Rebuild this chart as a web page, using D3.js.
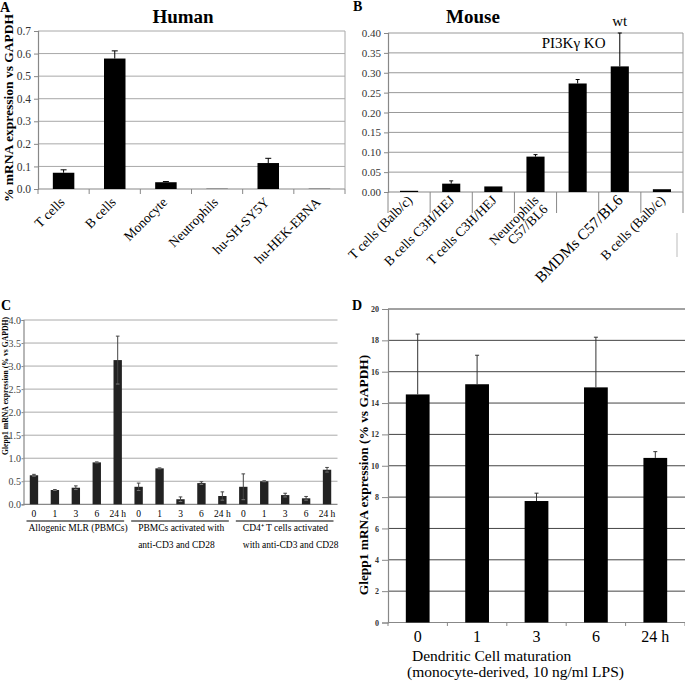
<!DOCTYPE html>
<html><head><meta charset="utf-8">
<script src="https://cdn.jsdelivr.net/npm/d3@7"></script>
<style>body{margin:0;background:#fff} svg{display:block} text{font-family:"Liberation Serif","Times New Roman",serif}</style>
</head><body><svg id="c" width="685" height="681"></svg>
<script>
// ---------- DATA ----------
const humanCats = ["T cells","B cells","Monocyte","Neutrophils","hu-SH-SY5Y","hu-HEK-EBNA"];
const humanVals = [0.072,0.578,0.030,0.001,0.115,0.001];
const humanErr  = [0.013,0.034,0.003,0.000,0.021,0.000];
const humanTicks = [0,0.1,0.2,0.3,0.4,0.5,0.6,0.7];

const mouseCats = ["T cells (Balb/c)","B cells C3H/HEJ","T cells C3H/HEJ","Neutrophils C57/BL6","BMDMs PI3Kγ KO","BMDMs wt","B cells (Balb/c)"];
const mouseVals = [0.003,0.021,0.014,0.089,0.273,0.316,0.007];
const mouseErr  = [0.000,0.007,0.000,0.005,0.010,0.084,0.000];
const mouseTicks = [0,0.05,0.10,0.15,0.20,0.25,0.30,0.35,0.40];
const mouseLabels = [["T cells (Balb/c)"],["B cells C3H/HEJ"],["T cells C3H/HEJ"],["Neutrophils","C57/BL6"],[],["BMDMs C57/BL6"],["B cells (Balb/c)"]];

const timeLabels = ["0","1","3","6","24 h"];
const groupNames = [["Allogenic MLR (PBMCs)"],["PBMCs activated with","anti-CD3 and CD28"],["CD4\u207A T cells activated","with anti-CD3 and CD28"]];
const mlrVals  = [0.63,0.31,0.36,0.91,3.13];
const mlrErr   = [0.02,0.01,0.04,0.01,0.52];
const pbmcVals = [0.38,0.78,0.11,0.46,0.18];
const pbmcErr  = [0.08,0.01,0.05,0.03,0.09];
const cd4Vals  = [0.38,0.50,0.20,0.13,0.75];
const cd4Err   = [0.28,0.01,0.04,0.04,0.05];
const glepTicks = [0,0.5,1.0,1.5,2.0,2.5,3.0,3.5,4.0];

const dcVals = [14.55,15.2,7.75,15.0,10.5];
const dcErr  = [3.85,1.85,0.5,3.2,0.4];
const dcTicks = [0,2,4,6,8,10,12,14,16,18,20];

// ---------- DRAW ----------
const svg = d3.select("#c");
const serif = '"Liberation Serif","Times New Roman",serif';

function txt(x,y,s,size,opts={}){
  const t = svg.append("text").attr("x",x).attr("y",y).text(s)
    .attr("font-size",size).attr("font-family",serif)
    .attr("fill",opts.fill||"#000");
  if(opts.bold) t.attr("font-weight","bold");
  if(opts.anchor) t.attr("text-anchor",opts.anchor);
  if(opts.rot!==undefined) t.attr("transform",`rotate(${opts.rot},${x},${y})`);
  return t;
}

function panel(cfg){
  const {x0,x1,yTop,yBot,max,ticks,fmt,cats,vals,errs,pad,grid,barFill,tickFont,tickFill,tickRight,errBoth,errStroke,cap,axisStroke} = cfg;
  const x = d3.scaleBand().domain(cats).range([x0,x1]).paddingInner(pad).paddingOuter(pad/2);
  const y = d3.scaleLinear().domain([0,max]).range([yBot,yTop]);
  const g = svg.append("g");
  g.selectAll("line.grid").data(ticks.slice(1)).join("line")
    .attr("x1",x0).attr("x2",x1).attr("y1",d=>y(d)).attr("y2",d=>y(d))
    .attr("stroke",grid).attr("stroke-width",1);
  const ax = g.append("g").attr("transform",`translate(${x0},0)`)
    .call(d3.axisLeft(y).tickValues(ticks).tickFormat(d3.format(fmt)).tickSize(cfg.tickLen||4).tickPadding(cfg.tickPad===undefined?3:cfg.tickPad));
  ax.select(".domain").attr("stroke",axisStroke).attr("stroke-width",1.2);
  ax.selectAll(".tick line").attr("stroke",axisStroke);
  ax.selectAll(".tick text").attr("font-family",serif).attr("font-size",tickFont).attr("fill",tickFill)
    .attr("font-weight",cfg.tickBold?"bold":"normal");
  g.append("line").attr("x1",x0).attr("x2",x1).attr("y1",y(0)).attr("y2",y(0)).attr("stroke",axisStroke).attr("stroke-width",1.2);
  g.selectAll("rect.bar").data(cats).join("rect")
    .attr("x",d=>x(d)).attr("width",x.bandwidth())
    .attr("y",(d,i)=>y(vals[i])).attr("height",(d,i)=>y(0)-y(vals[i]))
    .attr("fill",barFill);
  cats.forEach((c,i)=>{
    if(!errs[i]) return;
    const cx = x(c)+x.bandwidth()/2;
    const top = y(vals[i]+errs[i]);
    const bot = errBoth ? y(Math.max(0,vals[i]-errs[i])) : y(vals[i]);
    g.append("line").attr("x1",cx).attr("x2",cx).attr("y1",top).attr("y2",bot).attr("stroke",errStroke).attr("stroke-width",1);
    g.append("line").attr("x1",cx-cap).attr("x2",cx+cap).attr("y1",top).attr("y2",top).attr("stroke",errStroke).attr("stroke-width",1);
    if(errBoth) g.append("line").attr("x1",cx-cap).attr("x2",cx+cap).attr("y1",bot).attr("y2",bot).attr("stroke","#777").attr("stroke-width",1);
  });
  if(tickRight) g.append("line").attr("x1",x1).attr("x2",x1).attr("y1",yTop).attr("y2",yBot).attr("stroke",grid);
  return {x,y,g,ax};
}

// ---- Panel A ----
const A = panel({x0:38,x1:345,yTop:31,yBot:189,max:0.7,ticks:humanTicks,fmt:".1f",cats:humanCats,vals:humanVals,errs:humanErr,
  pad:0.58,grid:"#a8a8a8",barFill:"#000",tickFont:11.5,tickFill:"#333",errStroke:"#000",cap:3,axisStroke:"#888",tickRight:true});
d3.range(humanCats.length+1).forEach(i=>{
  const xx = 38 + i*A.x.step();
  A.g.append("line").attr("x1",xx).attr("x2",xx).attr("y1",189).attr("y2",194).attr("stroke","#888");
});
humanCats.forEach(c=>{
  const cx = A.x(c)+A.x.bandwidth()/2;
  txt(cx+2,203,c,13.5,{anchor:"end",rot:-45});
});
txt(183,23,"Human",19,{bold:true,anchor:"middle"});
txt(0,12,"A",14,{bold:true});
txt(13,108,"% mRNA expression vs GAPDH",13.5,{bold:true,anchor:"middle",rot:-90});

// ---- Panel B ----
const B = panel({x0:388,x1:683,yTop:33,yBot:192,max:0.40,ticks:mouseTicks,fmt:".2f",cats:mouseCats,vals:mouseVals,errs:mouseErr,
  pad:0.57,grid:"#999",barFill:"#000",tickFont:11,tickFill:"#333",errStroke:"#000",cap:2,axisStroke:"#888",tickRight:true});
d3.range(mouseCats.length+1).forEach(i=>{
  const xx = 388 + i*B.x.step();
  B.g.append("line").attr("x1",xx).attr("x2",xx).attr("y1",192).attr("y2",213).attr("stroke","#888");
});
mouseLabels.forEach((lines,i)=>{
  const cx = B.x(mouseCats[i])+B.x.bandwidth()/2;
  const big = lines[0]==="BMDMs C57/BL6";
  lines.forEach((l,j)=>{
    txt(cx+4+j*9,201+j*9,l,big?15.5:13.5,{anchor:"end",rot:-45});
  });
});
txt(473,23,"Mouse",19,{bold:true,anchor:"middle"});
txt(353,11,"B",14,{bold:true});
txt(B.x(mouseCats[5])+B.x.bandwidth()/2,26,"wt",15,{anchor:"middle"});
txt(B.x(mouseCats[4])+B.x.bandwidth()/2-4,48,"PI3Kγ KO",15,{anchor:"middle"});
svg.append("line").attr("x1",677).attr("x2",677).attr("y1",233).attr("y2",257).attr("stroke","#bbb");

// ---- Panel C ----
const cCats = [];
const cVals = [], cErrs = [];
[[mlrVals,mlrErr],[pbmcVals,pbmcErr],[cd4Vals,cd4Err]].forEach((p,gi)=>{
  timeLabels.forEach((t,ti)=>{ cCats.push(gi+"-"+t); cVals.push(p[0][ti]); cErrs.push(p[1][ti]); });
});
txt(7.5,386,"Glepp1 mRNA expression (% vs GAPDH)",7.7,{bold:true,anchor:"middle",rot:-90});
const C = panel({x0:23.5,x1:337.5,yTop:320,yBot:504.3,max:4.0,ticks:glepTicks,fmt:".1f",cats:cCats,vals:cVals,errs:cErrs,
  pad:0.6,grid:"#aaa",barFill:"#222",tickFont:10,tickFill:"#444",errStroke:"#444",cap:1.8,errBoth:true,axisStroke:"#888",tickPad:0.5,tickLen:2});
cCats.forEach((c,i)=>{
  const cx = C.x(c)+C.x.bandwidth()/2;
  txt(cx,517,timeLabels[i%5],9.5,{anchor:"middle"});
});
groupNames.forEach((lines,gi)=>{
  const a = C.x(cCats[gi*5]) - C.x.step()*C.x.paddingInner()/2;
  const b = a + 5*C.x.step();
  svg.append("line").attr("x1",a+3).attr("x2",b-4).attr("y1",521).attr("y2",521).attr("stroke","#000").attr("stroke-width",1);
  lines.forEach((l,j)=>txt(a+(gi===0?5:10),531+j*17,l,9.5));
});
txt(1,310,"C",14,{bold:true});

// ---- Panel D ----
const D = panel({x0:388,x1:685,yTop:309,yBot:622.5,max:20,ticks:dcTicks,fmt:"d",cats:timeLabels,vals:dcVals,errs:dcErr,
  pad:0.6,grid:"#444",barFill:"#000",tickFont:8,tickFill:"#333",errStroke:"#333",cap:2,axisStroke:"#888",tickLen:6,tickPad:3,tickBold:true});
d3.range(timeLabels.length+1).forEach(i=>{
  const xx = 388 + i*D.x.step();
  D.g.append("line").attr("x1",xx).attr("x2",xx).attr("y1",622.5).attr("y2",626).attr("stroke","#888");
});
timeLabels.forEach(t=>{
  txt(D.x(t)+D.x.bandwidth()/2,642,t,16,{anchor:"middle"});
});
txt(412,661,"Dendritic Cell maturation",15.5);
txt(407,677,"(monocyte-derived, 10 ng/ml LPS)",15.5);
txt(352,310,"D",14,{bold:true});
txt(368,475,"Glepp1 mRNA expression (% vs GAPDH)",13.4,{bold:true,anchor:"middle",rot:-90});
</script></body></html>
